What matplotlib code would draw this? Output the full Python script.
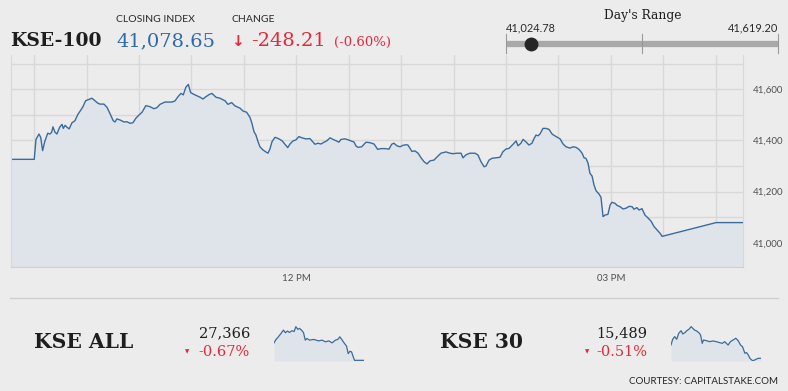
import matplotlib

matplotlib.use("Agg")
import matplotlib.pyplot as plt  # noqa: E402
from matplotlib.ticker import FuncFormatter  # noqa: E402

W, H = 788, 391
BG = "#ececec"
LINE = "#3b6b9b"
FILL = "#dfe4ea"
RED = "#e2283a"
BLUE = "#2f6aa6"
DARK = "#1e1e1e"
SERIF = "DejaVu Serif"
SANS = "Lato"

# KSE-100 intraday: minutes after 09:30 and index level
kse100_min = [
    -13.3, 0, 1.0, 2.7, 3.7, 4.8, 6.0, 7.7, 9.0, 10.0, 10.7, 11.9, 13.0, 14.5,
    15.9, 16.6, 17.7, 18.7, 20.0, 21.6, 23.3, 25.0, 26.7, 27.9, 29.4, 31.9,
    33.0, 34.8, 36.3, 37.6, 39.9, 41.6, 43.3, 45.2, 46.2, 47.3, 49.1, 51.4,
    53.1, 54.8, 56.5, 58.2, 59.9, 61.7, 63.9, 66.2, 68.5, 70.2, 72.0, 74.8,
    78.7, 80.5, 82.3, 84.0, 85.3, 86.8, 88.2, 89.5, 92.0, 94.9, 96.6, 98.3,
    100.0, 101.7, 104.0, 106.3, 109.2, 110.9, 113.0, 114.9, 117.8, 119.5,
    121.6, 123.5, 124.6, 125.8, 126.9, 128.1, 129.2, 130.9, 132.6, 133.8,
    134.9, 136.1, 137.8, 139.5, 141.8, 143.0, 145.1, 146.4, 148.1, 149.8,
    151.5, 153.3, 155.5, 157.8, 159.4, 160.7, 162.4, 164.1, 165.9, 167.6,
    169.3, 171.0, 172.7, 174.4, 175.6, 177.9, 179.8, 181.3, 183.0, 184.2,
    185.3, 187.4, 189.9, 192.2, 194.5, 195.6, 196.6, 198.5, 200.8, 203.1,
    204.6, 205.9, 207.6, 209.4, 211.1, 212.8, 213.9, 216.2, 217.9, 219.7,
    221.4, 223.1, 224.8, 226.5, 228.8, 231.1, 232.8, 235.7, 237.4, 239.7,
    242.0, 244.3, 245.4, 247.2, 249.4, 252.3, 254.0, 255.7, 257.5, 258.6,
    260.3, 262.0, 264.3, 266.6, 268.3, 270.0, 271.8, 274.1, 275.8, 276.9,
    278.6, 279.8, 281.5, 283.2, 284.9, 286.1, 287.2, 288.4, 289.5, 291.2,
    293.0, 294.7, 296.4, 298.7, 301.0, 302.7, 304.4, 306.7, 308.4, 310.1,
    311.8, 313.6, 314.7, 315.8, 317.0, 318.1, 319.3, 320.4, 321.6, 323.3,
    324.4, 325.6, 326.7, 328.4, 329.6, 330.7, 332.5, 333.6, 335.3, 337.0,
    338.8, 340.5, 342.2, 343.3, 345.0, 346.2, 347.9, 349.6, 351.3, 353.1,
    354.8, 356.5, 358.2, 359.4, 390.3, 405.7,
]
kse100_val = [
    41326, 41326, 41404, 41425, 41412, 41360, 41395, 41428, 41425, 41432,
    41453, 41432, 41425, 41451, 41463, 41447, 41459, 41452, 41445, 41469,
    41477, 41502, 41519, 41532, 41555, 41562, 41565, 41555, 41546, 41542,
    41542, 41530, 41506, 41477, 41472, 41484, 41480, 41472, 41473, 41467,
    41469, 41487, 41499, 41510, 41536, 41532, 41524, 41528, 41541, 41550,
    41550, 41554, 41571, 41584, 41578, 41608, 41619.2, 41587, 41578, 41569,
    41562, 41571, 41579, 41584, 41569, 41565, 41555, 41541, 41548, 41535,
    41526, 41515, 41510, 41490, 41467, 41434, 41421, 41395, 41375, 41363,
    41355, 41350, 41366, 41395, 41412, 41408, 41399, 41389, 41372, 41386,
    41398, 41402, 41415, 41410, 41406, 41407, 41395, 41385, 41389, 41386,
    41393, 41399, 41410, 41404, 41399, 41393, 41404, 41406, 41402, 41398,
    41394, 41378, 41373, 41375, 41393, 41391, 41386, 41375, 41365, 41368,
    41368, 41366, 41385, 41389, 41379, 41375, 41381, 41383, 41382, 41357,
    41359, 41350, 41332, 41317, 41308, 41320, 41323, 41339, 41350, 41355,
    41351, 41348, 41350, 41350, 41332, 41344, 41350, 41350, 41343, 41317,
    41297, 41300, 41323, 41330, 41332, 41334, 41356, 41366, 41369, 41385,
    41398, 41379, 41389, 41404, 41394, 41382, 41389, 41407, 41421, 41418,
    41425, 41447, 41447, 41443, 41425, 41415, 41406, 41386, 41375, 41370,
    41375, 41373, 41365, 41350, 41332, 41330, 41311, 41271, 41261, 41226,
    41203, 41190, 41178, 41102, 41108, 41111, 41147, 41158, 41154, 41146,
    41141, 41132, 41135, 41142, 41141, 41131, 41137, 41128, 41133, 41108,
    41097, 41084, 41063, 41050, 41037, 41024.78, 41078.65, 41078.65,
]

# header figures
index_name = "KSE-100"
closing = 41078.65
change = -248.21
change_pct = -0.60
day_low, day_high = 41024.78, 41619.20

# KSE ALL sparkline
kseall_min = [
    0, 9, 19.5, 31.5, 42, 51, 60, 69, 79.5, 90, 97.5, 106.5, 114, 123, 132,
    139.5, 147, 159, 177, 199.5, 214.5, 229.5, 244.5, 259.5, 274.5, 285, 294,
    304.5, 315, 324, 331.5, 339, 346.5, 354, 360, 402,
]
kseall_val = [
    27551, 27587, 27615, 27651, 27686, 27658, 27676, 27661, 27679, 27672,
    27722, 27694, 27704, 27686, 27658, 27580, 27597, 27580, 27587, 27572,
    27580, 27562, 27572, 27551, 27580, 27587, 27615, 27580, 27544, 27516,
    27437, 27462, 27455, 27402, 27366, 27366,
]
kseall_close, kseall_pct = 27366, -0.67

# KSE 30 sparkline
kse30_min = [
    0, 7.4, 16.2, 25, 33.8, 44.1, 51.5, 60.3, 69.1, 77.9, 88.2, 95.6, 102.9,
    110.3, 122, 129.4, 136.7, 142.6, 154.4, 169.1, 183.8, 198.5, 213.2, 224.9,
    235.2, 249.9, 260.2, 272, 283.7, 294, 304.3, 313.1, 323.4, 330.8, 338.1,
    345.5, 352.8, 360.2, 372, 382.2, 394,
]
kse30_val = [
    15568, 15602, 15618, 15602, 15638, 15653, 15634, 15641, 15653, 15661,
    15677, 15667, 15657, 15653, 15641, 15628, 15578, 15598, 15594, 15588,
    15592, 15588, 15582, 15578, 15588, 15568, 15588, 15598, 15608, 15594,
    15568, 15558, 15519, 15523, 15509, 15489, 15479, 15475, 15483, 15489,
    15489,
]
kse30_close, kse30_pct = 15489, -0.51


def box(x0, y0, x1, y1):
    """Pixel box (top-left origin) to figure fraction rect."""
    return [x0 / W, 1 - y1 / H, (x1 - x0) / W, (y1 - y0) / H]


def put(x, y, s, **kw):
    fig.text(x / W, 1 - y / H, s, **kw)


fig = plt.figure(figsize=(W / 100, H / 100), dpi=100, facecolor=BG)

# ---- main intraday chart
ax = fig.add_axes(box(11, 55, 743, 267))
ax.set_facecolor(BG)
ax.fill_between(kse100_min, kse100_val, 40905, color=FILL, lw=0)
ax.plot(kse100_min, kse100_val, color=LINE, lw=1.0)
ax.set_xlim(-13.3, 405.7)
ax.set_ylim(40905, 41734)
ax.set_xticks(range(0, 400, 30))
ax.set_xticklabels(["12 PM" if t == 150 else "03 PM" if t == 330 else ""
                    for t in range(0, 400, 30)])
ax.set_yticks(range(41000, 41800, 100))
ax.yaxis.set_major_formatter(
    FuncFormatter(lambda v, _p: f"{v:,.0f}" if v % 200 == 0 and v < 41700 else ""))
ax.yaxis.tick_right()
ax.grid(True, color="#d8d8d8", lw=1)
ax.set_axisbelow(True)
ax.tick_params(length=0, labelsize=7, labelcolor="#505050", pad=5)
ax.tick_params(axis="y", pad=7)
for lab in ax.get_xticklabels() + ax.get_yticklabels():
    lab.set_family(SANS)
ax.spines["top"].set_visible(False)
for side in ("left", "right"):
    ax.spines[side].set_color("#d8d8d8")
ax.spines["bottom"].set_color("#cfcfcf")

# ---- header
put(10, 41, index_name, family=SERIF, weight="bold", size=13.5,
    color=DARK, va="center")
put(116, 20, "CLOSING INDEX", family=SANS, size=7.5, color="#2a2a2a", va="center")
put(116, 41, f"{closing:,.2f}", family=SERIF, size=14, color=BLUE, va="center")
put(232, 20, "CHANGE", family=SANS, size=7.5, color="#2a2a2a", va="center")
put(231, 42, "\u2193", family="DejaVu Sans", weight="bold", size=11,
    color=RED, va="center")
put(251, 41, f"-{abs(change):,.2f}", family=SERIF, size=14, color=RED, va="center")
put(334, 42, f"(-{abs(change_pct):.2f}%)", family=SERIF, size=9.5,
    color=RED, va="center")

# ---- day's range slider
put(643, 15, "Day's Range", family=SERIF, size=8.8, color=DARK,
    ha="center", va="center")
put(506, 28, f"{day_low:,.2f}", family=SANS, size=7.9, color="#2a2a2a", va="center")
put(778, 28, f"{day_high:,.2f}", family=SANS, size=7.9, color="#2a2a2a",
    ha="right", va="center")
axr = fig.add_axes(box(506, 34, 778, 53))
axr.set_xlim(day_low, day_high)
axr.set_ylim(0, 1)
axr.axis("off")
axr.plot([day_low, day_high], [0.5, 0.5], color="#a9a9a9", lw=4.5,
         solid_capstyle="butt")
for v in (day_low, (day_low + day_high) / 2, day_high):
    axr.plot([v, v], [0, 1], color="#9a9a9a", lw=0.8, clip_on=False)
axr.plot([closing], [0.5], "o", color="#262626", ms=9, clip_on=False)

# ---- bottom strip
fig.add_artist(plt.Line2D([10 / W, 778 / W], [1 - 298 / H] * 2,
                          color="#cfcfcf", lw=1))


def sub_index(name, x_name, x_num, x_tri, spark_box, t, v, close, pct, lo, hi):
    put(x_name, 342, name, family=SERIF, weight="bold", size=14.6, color=DARK,
        va="center")
    put(x_num, 333, f"{close:,}", family=SERIF, size=10.5, color=DARK,
        ha="right", va="center")
    put(x_num, 352, f"-{abs(pct):.2f}%", family=SERIF, size=10.5, color=RED,
        ha="right", va="center")
    put(x_tri, 352, "\u25bc", family="DejaVu Sans", size=4, color=RED,
        ha="center", va="center")
    axs = fig.add_axes(box(*spark_box))
    axs.fill_between(t, v, lo, color=FILL, lw=0)
    axs.plot(t, v, color=LINE, lw=0.9)
    axs.set_xlim(t[0], t[-1])
    axs.set_ylim(lo, hi)
    axs.axis("off")


sub_index("KSE ALL", 34, 250, 187, (274, 325, 364, 361),
          kseall_min, kseall_val, kseall_close, kseall_pct, 27359, 27740)
sub_index("KSE 30", 440, 647, 587, (671, 325, 761, 361),
          kse30_min, kse30_val, kse30_close, kse30_pct, 15473, 15687)

put(778, 382, "COURTESY: CAPITALSTAKE.COM", family=SANS, size=7, color="#222222",
    ha="right", va="center")

fig.savefig("out.png", dpi=100, facecolor=BG)
